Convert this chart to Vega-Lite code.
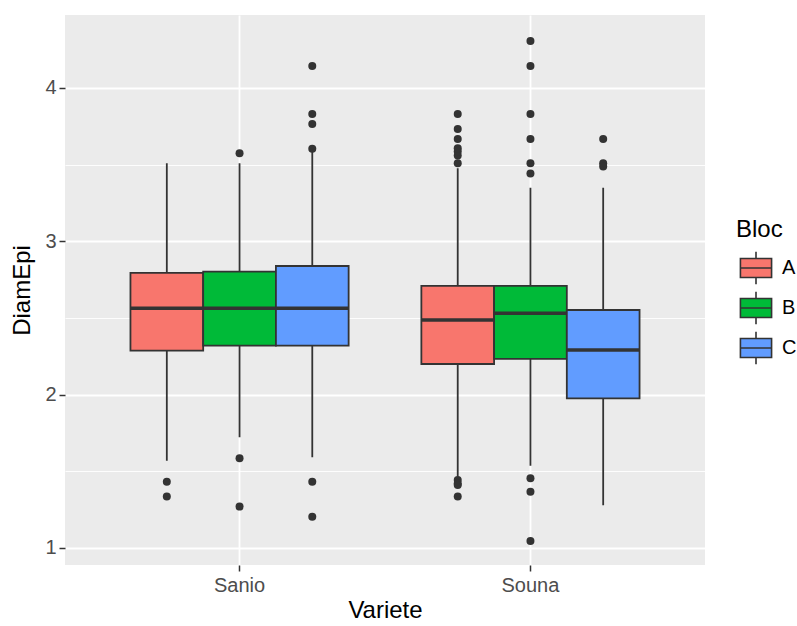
{
  "$schema": "https://vega.github.io/schema/vega-lite/v6.json",
  "width": 640,
  "height": 550,
  "autosize": {"type": "none"},
  "padding": {"left": 65, "top": 15, "right": 92, "bottom": 61},
  "background": "white",
  "datasets": {
    "stats": [
      {"Variete": "Sanio", "Bloc": "A", "lower": 1.569, "q1": 2.287, "median": 2.563, "q3": 2.794, "upper": 3.509},
      {"Variete": "Sanio", "Bloc": "B", "lower": 1.722, "q1": 2.320, "median": 2.563, "q3": 2.802, "upper": 3.509},
      {"Variete": "Sanio", "Bloc": "C", "lower": 1.592, "q1": 2.320, "median": 2.563, "q3": 2.839, "upper": 3.585},
      {"Variete": "Souna", "Bloc": "A", "lower": 1.465, "q1": 2.200, "median": 2.487, "q3": 2.709, "upper": 3.476},
      {"Variete": "Souna", "Bloc": "B", "lower": 1.537, "q1": 2.233, "median": 2.531, "q3": 2.709, "upper": 3.350},
      {"Variete": "Souna", "Bloc": "C", "lower": 1.278, "q1": 1.976, "median": 2.291, "q3": 2.552, "upper": 3.350}
    ],
    "outliers": [
      {"Variete": "Sanio", "Bloc": "A", "DiamEpi": 1.432},
      {"Variete": "Sanio", "Bloc": "A", "DiamEpi": 1.335},
      {"Variete": "Sanio", "Bloc": "B", "DiamEpi": 3.574},
      {"Variete": "Sanio", "Bloc": "B", "DiamEpi": 1.585},
      {"Variete": "Sanio", "Bloc": "B", "DiamEpi": 1.270},
      {"Variete": "Sanio", "Bloc": "C", "DiamEpi": 3.604},
      {"Variete": "Sanio", "Bloc": "C", "DiamEpi": 3.765},
      {"Variete": "Sanio", "Bloc": "C", "DiamEpi": 3.830},
      {"Variete": "Sanio", "Bloc": "C", "DiamEpi": 4.144},
      {"Variete": "Sanio", "Bloc": "C", "DiamEpi": 1.432},
      {"Variete": "Sanio", "Bloc": "C", "DiamEpi": 1.204},
      {"Variete": "Souna", "Bloc": "A", "DiamEpi": 3.509},
      {"Variete": "Souna", "Bloc": "A", "DiamEpi": 3.560},
      {"Variete": "Souna", "Bloc": "A", "DiamEpi": 3.585},
      {"Variete": "Souna", "Bloc": "A", "DiamEpi": 3.607},
      {"Variete": "Souna", "Bloc": "A", "DiamEpi": 3.667},
      {"Variete": "Souna", "Bloc": "A", "DiamEpi": 3.733},
      {"Variete": "Souna", "Bloc": "A", "DiamEpi": 3.830},
      {"Variete": "Souna", "Bloc": "A", "DiamEpi": 1.443},
      {"Variete": "Souna", "Bloc": "A", "DiamEpi": 1.420},
      {"Variete": "Souna", "Bloc": "A", "DiamEpi": 1.411},
      {"Variete": "Souna", "Bloc": "A", "DiamEpi": 1.335},
      {"Variete": "Souna", "Bloc": "B", "DiamEpi": 4.307},
      {"Variete": "Souna", "Bloc": "B", "DiamEpi": 4.144},
      {"Variete": "Souna", "Bloc": "B", "DiamEpi": 3.830},
      {"Variete": "Souna", "Bloc": "B", "DiamEpi": 3.667},
      {"Variete": "Souna", "Bloc": "B", "DiamEpi": 3.509},
      {"Variete": "Souna", "Bloc": "B", "DiamEpi": 3.443},
      {"Variete": "Souna", "Bloc": "B", "DiamEpi": 1.454},
      {"Variete": "Souna", "Bloc": "B", "DiamEpi": 1.367},
      {"Variete": "Souna", "Bloc": "B", "DiamEpi": 1.046},
      {"Variete": "Souna", "Bloc": "C", "DiamEpi": 3.667},
      {"Variete": "Souna", "Bloc": "C", "DiamEpi": 3.509},
      {"Variete": "Souna", "Bloc": "C", "DiamEpi": 3.488}
    ]
  },
  "layer": [
    {
      "data": {"name": "stats"},
      "mark": {"type": "rule", "color": "#333333", "strokeWidth": 1.8},
      "encoding": {
        "x": {"field": "Variete", "type": "nominal"},
        "xOffset": {"field": "Bloc", "type": "nominal"},
        "y": {"field": "lower", "type": "quantitative",
              "axis": {"values": [1.5, 2.5, 3.5], "grid": true, "gridWidth": 0.9, "labels": false, "ticks": false, "domain": false, "title": null, "orient": "right"}},
        "y2": {"field": "upper"}
      }
    },
    {
      "data": {"name": "stats"},
      "mark": {"type": "bar", "stroke": "#333333", "strokeWidth": 1.8, "opacity": 1},
      "encoding": {
        "x": {"field": "Variete", "type": "nominal"},
        "xOffset": {"field": "Bloc", "type": "nominal"},
        "y": {"field": "q1", "type": "quantitative",
              "axis": {"values": [1, 2, 3, 4], "title": "DiamEpi", "grid": true, "gridWidth": 1.8}},
        "y2": {"field": "q3"},
        "fill": {"field": "Bloc", "type": "nominal",
                 "scale": {"domain": ["A", "B", "C"], "range": ["#F8766D", "#00BA38", "#619CFF"]},
                 "legend": {"title": "Bloc", "orient": "none", "legendX": 671, "legendY": 203}}
      }
    },
    {
      "data": {"name": "stats"},
      "mark": {"type": "tick", "color": "#333333", "thickness": 3.5, "size": 73, "opacity": 1},
      "encoding": {
        "x": {"field": "Variete", "type": "nominal"},
        "xOffset": {"field": "Bloc", "type": "nominal"},
        "y": {"field": "median", "type": "quantitative", "axis": null}
      }
    },
    {
      "data": {"name": "outliers"},
      "mark": {"type": "point", "filled": true, "color": "#333333", "size": 64, "opacity": 1},
      "encoding": {
        "x": {"field": "Variete", "type": "nominal"},
        "xOffset": {"field": "Bloc", "type": "nominal"},
        "y": {"field": "DiamEpi", "type": "quantitative", "axis": null}
      }
    }
  ],
  "resolve": {"axis": {"y": "independent"}},
  "encoding": {
    "x": {"field": "Variete", "type": "nominal",
          "scale": {"paddingInner": 0.25, "paddingOuter": 0.225},
          "axis": {"title": "Variete", "labelAngle": 0, "bandPosition": 0.5, "grid": true, "gridWidth": 1.8}},
    "xOffset": {"field": "Bloc", "type": "nominal", "scale": {"paddingInner": 0, "paddingOuter": 0}},
    "y": {"type": "quantitative", "scale": {"domain": [0.889, 4.476], "nice": false, "zero": false}}
  },
  "config": {
    "view": {"fill": "#EBEBEB", "stroke": null},
    "font": "Liberation Sans",
    "axis": {
      "gridColor": "white",
      "domain": false,
      "tickColor": "#333333",
      "tickSize": 6,
      "tickWidth": 1.5,
      "labelColor": "#4D4D4D",
      "labelFont": "Liberation Sans",
      "labelFontSize": 20,
      "labelPadding": 3,
      "titleFont": "Liberation Sans",
      "titleFontSize": 24,
      "titleFontWeight": "normal",
      "titleColor": "black"
    },
    "axisX": {"labelPadding": 4, "titlePadding": 3},
    "axisY": {"titlePadding": 10},
    "legend": {
      "titleFont": "Liberation Sans",
      "titleFontSize": 24,
      "titleFontWeight": "normal",
      "titleColor": "black",
      "titlePadding": 6,
      "labelFont": "Liberation Sans",
      "labelFontSize": 20,
      "labelColor": "black",
      "labelOffset": 6,
      "symbolType": "M-0.82,-0.5H0.82V0.5H-0.82Z M-0.82,0H0.82 M0,-0.5V-0.85 M0,0.5V0.85",
      "symbolSize": 1444,
      "symbolStrokeColor": "#333333",
      "symbolStrokeWidth": 1.6,
      "symbolOpacity": 1,
      "rowPadding": 0
    }
  }
}
